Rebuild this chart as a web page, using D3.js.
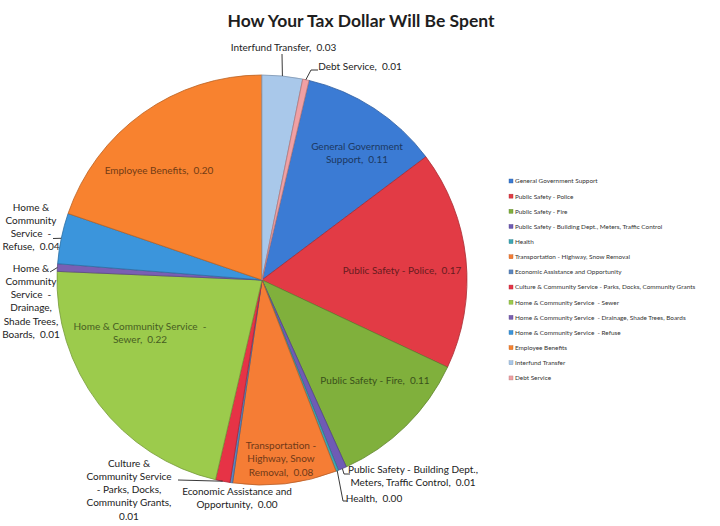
<!DOCTYPE html>
<html>
<head>
<meta charset="utf-8">
<script src="https://cdn.jsdelivr.net/npm/d3@7"></script>
<style>
body { margin:0; background:#fff; }
text { font-family: Lato, "Open Sans", sans-serif; }
</style>
</head>
<body>
<script>
// the data
var categories = [
  "General Government Support",
  "Public Safety - Police",
  "Public Safety - Fire",
  "Public Safety - Building Dept., Meters, Traffic Control",
  "Health",
  "Transportation - Highway, Snow Removal",
  "Economic Assistance and Opportunity",
  "Culture & Community Service - Parks, Docks, Community Grants",
  "Home & Community Service  - Sewer",
  "Home & Community Service  - Drainage, Shade Trees, Boards",
  "Home & Community Service  - Refuse",
  "Employee Benefits",
  "Interfund Transfer",
  "Debt Service"
];
var shares = [0.111, 0.173, 0.113, 0.0067, 0.002, 0.082, 0.002, 0.0115, 0.221, 0.006, 0.040, 0.198, 0.032, 0.005];
var title = "How Your Tax Dollar Will Be Spent";

var colors = ["#3b7bd4","#e23b45","#80b03c","#6f5bb5","#3ca7b5","#f57d35","#5b86c0",
              "#e63346","#9ccb4c","#7a5fb3","#3b95dc","#f8822f","#a9c8ea","#f0a0a4"];

// label layout: lines ({v} = value), centre x, first baseline, inside or not, leader bend points
var labelLayout = [
  {lines:["General Government","Support,  {v}"], x:357, y:150, inside:true},
  {lines:["Public Safety - Police,  {v}"], x:402, y:274, inside:true},
  {lines:["Public Safety - Fire,  {v}"], x:375, y:384, inside:true},
  {lines:["Public Safety - Building Dept.,","Meters, Traffic Control,  {v}"], x:413, y:473, leader:[[344,474],[350,474]]},
  {lines:["Health,  {v}"], x:374, y:501.5, leader:[[343,501],[347,501]]},
  {lines:["Transportation -","Highway, Snow","Removal,  {v}"], x:281, y:449, inside:true},
  {lines:["Economic Assistance and","Opportunity,  {v}"], x:237, y:495},
  {lines:["Culture &","Community Service","- Parks, Docks,","Community Grants,","{v}"], x:129, y:466.5, leader:[[178,480]]},
  {lines:["Home & Community Service  -","Sewer,  {v}"], x:140, y:330, inside:true},
  {lines:["Home &","Community","Service  -","Drainage,","Shade Trees,","Boards,  {v}"], x:31, y:271.5, leader:[[50,272]]},
  {lines:["Home &","Community","Service  -","Refuse,  {v}"], x:31, y:210.5, leader:[[53,238.5]]},
  {lines:["Employee Benefits,  {v}"], x:159, y:174, inside:true},
  {lines:["Interfund Transfer,  {v}"], x:283.5, y:51, leader:[[282,54]]},
  {lines:["Debt Service,  {v}"], x:360, y:70, leader:[[311,70],[318,70]]}
];

var width = 720, height = 526;
var cx = 262, cy = 280, radius = 205;
var lineH = 13.3;
var fmt = d3.format(".2f");

var svg = d3.select("body").append("svg").attr("width",width).attr("height",height);

svg.append("text")
   .attr("x",361).attr("y",27)
   .attr("text-anchor","middle")
   .attr("font-size","17.5px").attr("font-weight","bold")
   .attr("fill","#1e1e1e")
   .text(title);

var data = categories.map(function(c,i){ return {name:c, value:shares[i], color:colors[i], layout:labelLayout[i]}; });

var startA = 13.25*Math.PI/180;
var pie = d3.pie().sort(null).value(function(d){return d.value;})
            .startAngle(startA).endAngle(startA + 2*Math.PI);
var arc = d3.arc().innerRadius(0).outerRadius(radius);
var arcs = pie(data);

var chartGroup = svg.append("g").attr("transform","translate("+cx+","+cy+")");

chartGroup.selectAll("path.slice")
   .data(arcs)
   .enter().append("path")
   .attr("class","slice")
   .attr("d",arc)
   .attr("fill",function(d){return d.data.color;})
   .attr("stroke",function(d){return d3.color(d.data.color).darker(0.8);})
   .attr("stroke-width",0.8)
   .attr("stroke-linejoin","round");

// point on the rim at the middle of a slice, in page coordinates
function rimPoint(d){
  var a = (d.startAngle + d.endAngle)/2;
  return [cx + radius*Math.sin(a), cy - radius*Math.cos(a)];
}

var line = d3.line();
svg.selectAll("path.leader")
   .data(arcs.filter(function(d){return d.data.layout.leader;}))
   .enter().append("path")
   .attr("class","leader")
   .attr("d",function(d){ return line([rimPoint(d)].concat(d.data.layout.leader)); })
   .attr("fill","none").attr("stroke","#222").attr("stroke-width",0.9);

var labels = svg.selectAll("text.lbl")
   .data(arcs)
   .enter().append("text")
   .attr("class","lbl")
   .attr("text-anchor","middle")
   .attr("font-size","10px")
   .style("white-space","pre")
   .attr("fill",function(d){ return d.data.layout.inside ? d3.color(d.data.color).darker(2.2) : "#222"; });

labels.each(function(d){
  var t = d3.select(this), L = d.data.layout;
  L.lines.forEach(function(s,i){
    t.append("tspan")
     .attr("x",L.x).attr("y",L.y + i*lineH)
     .text(s.replace("{v}", fmt(d.data.value)));
  });
});

// legend
var legend = svg.append("g").attr("transform","translate(509,181)");
var rows = legend.selectAll("g").data(data).enter().append("g")
   .attr("transform",function(d,i){ return "translate(0,"+(i*15.15)+")"; });
rows.append("rect").attr("x",0).attr("y",-2).attr("width",4).attr("height",4)
   .attr("fill",function(d){return d.color;})
   .attr("stroke",function(d){return d3.color(d.color).darker(0.8);}).attr("stroke-width",0.4);
rows.append("text").attr("x",6).attr("y",2.4)
   .attr("font-size","6.4px").attr("fill","#333")
   .style("white-space","pre")
   .text(function(d){return d.name;});
</script>
</body>
</html>
